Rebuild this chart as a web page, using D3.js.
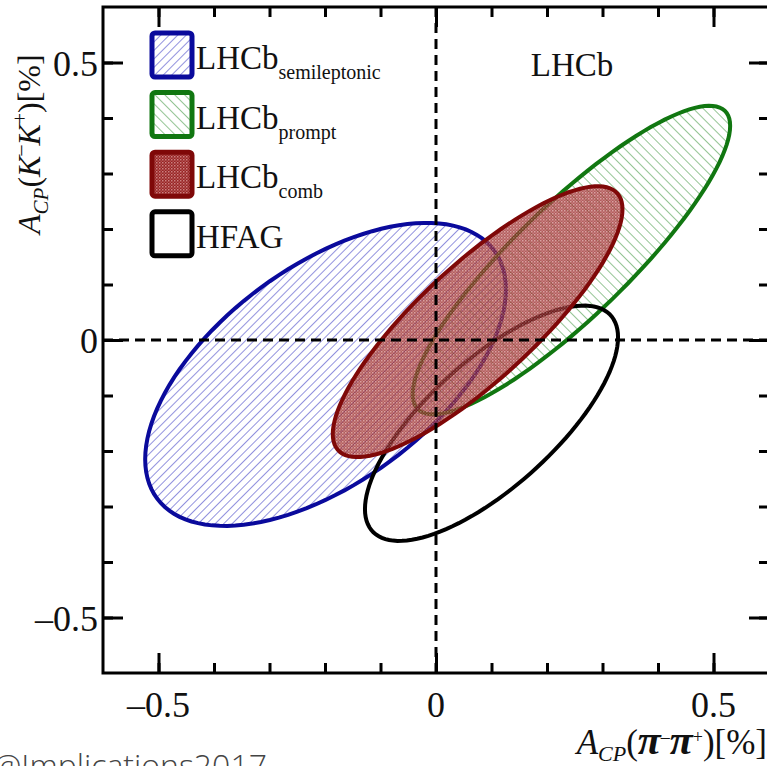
<!DOCTYPE html>
<html>
<head>
<meta charset="utf-8">
<script src="https://cdn.jsdelivr.net/npm/d3@7"></script>
<style>
  body { margin: 0; background: #fff; }
  svg { display: block; }
  text { font-family: "Liberation Serif", "Times New Roman", serif; fill: #111; }
</style>
</head>
<body>
<div class="chart"></div>
<script>
// contour parameters (in %)
const contourNames = ["semileptonic", "prompt", "comb", "HFAG"];
const centerX = [-0.199, 0.244, 0.075, 0.100];
const centerY = [-0.062, 0.144, 0.033, -0.150];
const halfWidthX = [0.325, 0.286, 0.261, 0.228];
const halfWidthY = [0.273, 0.278, 0.244, 0.212];
const correlation = [0.56, 0.87, 0.83, 0.73];

// axis ticks
const majorTicks = [-0.5, 0, 0.5];
const majorLabels = ["\u20130.5", "0", "0.5"];
const minorTicks = [-0.5, -0.4, -0.3, -0.2, -0.1, 0, 0.1, 0.2, 0.3, 0.4, 0.5];

// legend
const legendMain = ["LHCb", "LHCb", "LHCb", "HFAG"];
const legendSub = ["semileptonic", "prompt", "comb", ""];

const W = 767, H = 766;
const plot_left = 103, plot_top = 7, plot_size = 666;

const svg = d3.select(".chart").append("svg")
  .attr("width", W)
  .attr("height", H);

const x = d3.scaleLinear().domain([-0.6, 0.6]).range([plot_left, plot_left + plot_size]);
const y = d3.scaleLinear().domain([-0.6, 0.6]).range([plot_top + plot_size, plot_top]);

// patterns
const defs = svg.append("defs");
const pBlue = defs.append("pattern")
  .attr("id", "hatch-blue")
  .attr("patternUnits", "userSpaceOnUse")
  .attr("width", 6).attr("height", 6)
  .attr("patternTransform", "rotate(45)");
pBlue.append("line").attr("x1", 0).attr("y1", 0).attr("x2", 0).attr("y2", 6)
  .attr("stroke", "#5656cc").attr("stroke-width", 1.3);

const pGreen = defs.append("pattern")
  .attr("id", "hatch-green")
  .attr("patternUnits", "userSpaceOnUse")
  .attr("width", 7).attr("height", 7)
  .attr("patternTransform", "rotate(-45)");
pGreen.append("line").attr("x1", 0).attr("y1", 0).attr("x2", 0).attr("y2", 7)
  .attr("stroke", "#5aa55a").attr("stroke-width", 1.3);

const pRed = defs.append("pattern")
  .attr("id", "cross-red")
  .attr("patternUnits", "userSpaceOnUse")
  .attr("width", 3).attr("height", 3);
pRed.append("rect").attr("width", 3).attr("height", 3).attr("fill", "#962424");
pRed.append("rect").attr("x", 0).attr("y", 0).attr("width", 1.5).attr("height", 1.5).attr("fill", "#cc8080");
pRed.append("rect").attr("x", 1.5).attr("y", 1.5).attr("width", 1.5).attr("height", 1.5).attr("fill", "#b24e4e");

const styles = {
  semileptonic: { fill: "url(#hatch-blue)", stroke: "#0a0a9c", opacity: 1 },
  prompt: { fill: "url(#hatch-green)", stroke: "#117711", opacity: 1 },
  comb: { fill: "url(#cross-red)", stroke: "#7f0808", opacity: 0.74 },
  HFAG: { fill: "none", stroke: "#000", opacity: 1 },
};

// contour outline from centre, half widths and correlation
function contour(i) {
  const pts = [];
  const n = 120;
  const r = correlation[i];
  for (let k = 0; k <= n; k++) {
    const t = 2 * Math.PI * k / n;
    pts.push([
      centerX[i] + halfWidthX[i] * Math.cos(t),
      centerY[i] + halfWidthY[i] * (r * Math.cos(t) + Math.sqrt(1 - r * r) * Math.sin(t)),
    ]);
  }
  return pts;
}

const line = d3.line().x(d => x(d[0])).y(d => y(d[1])).curve(d3.curveLinearClosed);

const plot = svg.append("g").attr("class", "contours");
const drawOrder = ["semileptonic", "prompt", "HFAG", "comb"];
for (const name of drawOrder) {
  const i = contourNames.indexOf(name);
  const s = styles[name];
  const pts = contour(i);
  plot.append("path")
    .attr("d", line(pts))
    .attr("fill", s.fill)
    .attr("fill-opacity", s.opacity);
  plot.append("path")
    .attr("d", line(pts))
    .attr("fill", "none")
    .attr("stroke", s.stroke)
    .attr("stroke-width", 4);
}

// zero lines
svg.append("line")
  .attr("x1", x(0)).attr("x2", x(0)).attr("y1", y(0.6)).attr("y2", y(-0.6))
  .attr("stroke", "#000").attr("stroke-width", 3).attr("stroke-dasharray", "10,6");
svg.append("line")
  .attr("x1", x(-0.6)).attr("x2", x(0.6)).attr("y1", y(0)).attr("y2", y(0))
  .attr("stroke", "#000").attr("stroke-width", 3).attr("stroke-dasharray", "10,6");

// frame
svg.append("rect")
  .attr("x", plot_left).attr("y", plot_top).attr("width", plot_size).attr("height", plot_size)
  .attr("fill", "none").attr("stroke", "#000").attr("stroke-width", 3);

// ticks on all four sides, pointing inward
function ticks(axis, pos, values, len) {
  const g = svg.append("g").attr("transform", pos)
    .call(axis.tickValues(values).tickSize(len).tickFormat(""));
  g.select(".domain").remove();
  g.selectAll(".tick line").attr("stroke", "#000").attr("stroke-width", 3);
}
const bottom_y = plot_top + plot_size, right_x = plot_left + plot_size;
ticks(d3.axisBottom(x), `translate(0,${bottom_y})`, minorTicks, -10);
ticks(d3.axisBottom(x), `translate(0,${bottom_y})`, majorTicks, -20);
ticks(d3.axisTop(x), `translate(0,${plot_top})`, minorTicks, -10);
ticks(d3.axisTop(x), `translate(0,${plot_top})`, majorTicks, -20);
ticks(d3.axisLeft(y), `translate(${plot_left},0)`, minorTicks, -10);
ticks(d3.axisLeft(y), `translate(${plot_left},0)`, majorTicks, -20);
ticks(d3.axisRight(y), `translate(${right_x},0)`, minorTicks, -10);
ticks(d3.axisRight(y), `translate(${right_x},0)`, majorTicks, -20);

// tick labels
svg.selectAll("text.xlab").data(majorTicks).enter().append("text")
  .attr("class", "xlab")
  .attr("x", d => x(d)).attr("y", bottom_y + 44)
  .attr("text-anchor", "middle").style("font-size", "36px")
  .text((d, i) => majorLabels[i]);
svg.selectAll("text.ylab").data(majorTicks).enter().append("text")
  .attr("class", "ylab")
  .attr("x", plot_left - 5).attr("y", d => y(d) + 13)
  .attr("text-anchor", "end").style("font-size", "36px")
  .text((d, i) => majorLabels[i]);

// axis titles
const xt = svg.append("text")
  .attr("x", 767).attr("y", 754)
  .attr("text-anchor", "end").style("font-size", "35px");
xt.append("tspan").style("font-style", "italic").text("A");
xt.append("tspan").style("font-style", "italic").style("font-size", "22px").attr("dy", 7).text("CP");
xt.append("tspan").attr("dy", -7).text("(");
xt.append("tspan").style("font-style", "italic").style("font-weight", "bold").style("font-size", "42px").text("π");
xt.append("tspan").style("font-size", "18px").attr("dy", -11).text("\u2013");
xt.append("tspan").style("font-style", "italic").style("font-weight", "bold").style("font-size", "42px").attr("dy", 11).text("π");
xt.append("tspan").style("font-size", "18px").attr("dy", -11).text("+");
xt.append("tspan").attr("dy", 11).text(")[%]");

const yt = svg.append("text")
  .attr("transform", `translate(40,234) rotate(-90)`)
  .attr("text-anchor", "start").style("font-size", "32px");
yt.append("tspan").style("font-style", "italic").text("A");
yt.append("tspan").style("font-style", "italic").style("font-size", "21px").attr("dy", 8).text("CP");
yt.append("tspan").attr("dy", -8).text("(");
yt.append("tspan").style("font-style", "italic").text("K");
yt.append("tspan").style("font-size", "20px").attr("dy", -13).text("\u2013");
yt.append("tspan").style("font-style", "italic").attr("dy", 13).text("K");
yt.append("tspan").style("font-size", "20px").attr("dy", -13).text("+");
yt.append("tspan").attr("dy", 13).text(")[%]");

// LHCb label
svg.append("text")
  .attr("x", 572).attr("y", 76)
  .attr("text-anchor", "middle").style("font-size", "33px")
  .text("LHCb");

// legend
const legend = svg.append("g").attr("class", "legend");
contourNames.forEach((name, i) => {
  const s = styles[name];
  const ly = 33 + 59.6 * i;
  legend.append("rect")
    .attr("x", 152).attr("y", ly).attr("width", 40).attr("height", 44).attr("rx", 3)
    .attr("fill", s.fill === "none" ? "#fff" : s.fill)
    .attr("stroke", s.stroke).attr("stroke-width", 5);
  const t = legend.append("text")
    .attr("x", 196).attr("y", ly + 36)
    .style("font-size", "33px");
  t.append("tspan").text(legendMain[i]);
  if (legendSub[i]) {
    t.append("tspan").attr("dy", 10).style("font-size", "20px").text(legendSub[i]);
  }
});

// watermark (cut by the bottom edge, as in the source image)
svg.append("text")
  .attr("x", -7).attr("y", 777)
  .style("font-family", "'Open Sans', 'DejaVu Sans', sans-serif")
  .style("font-weight", "300")
  .style("font-size", "32px")
  .style("fill", "#444")
  .text("@Implications2017");
</script>
</body>
</html>
